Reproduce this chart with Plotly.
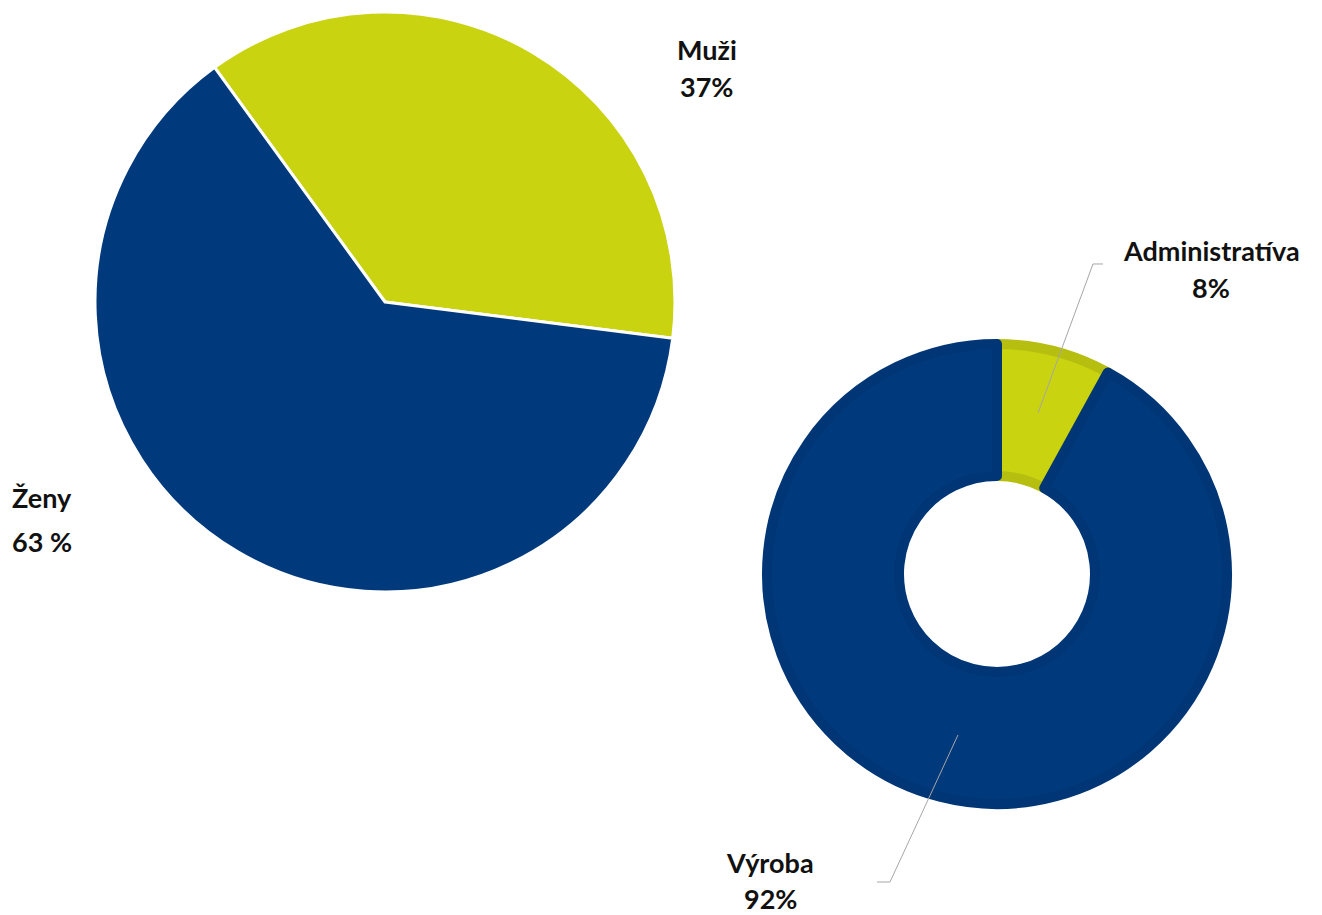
import plotly.graph_objects as go

W, H = 1322, 915
OFF = 8  # page body margin in the browser

# data
gender_labels = ["Muži", "Ženy"]
gender_values = [37, 63]
gender_text = ["37%", "63 %"]

dept_labels = ["Administratíva", "Výroba"]
dept_values = [8, 92]
dept_text = ["8%", "92%"]

YELLOW = "#C9D30F"
NAVY = "#003A7C"
YELLOW_EDGE = "#B6BF10"
NAVY_EDGE = "#003675"


def px(x):
    return (x - OFF) / W


def py(y):
    return 1 - (y - OFF) / H


fig = go.Figure()

fig.add_trace(go.Pie(
    labels=gender_labels,
    values=gender_values,
    sort=False,
    direction="clockwise",
    rotation=-36,
    textinfo="none",
    hoverinfo="label+percent",
    marker=dict(colors=[YELLOW, NAVY], line=dict(color="white", width=3)),
    domain=dict(x=[px(95), px(675)], y=[py(592), py(12)]),
    showlegend=False,
))

fig.add_trace(go.Pie(
    labels=dept_labels,
    values=dept_values,
    sort=False,
    direction="clockwise",
    rotation=0,
    hole=0.426,
    textinfo="none",
    hoverinfo="label+percent",
    marker=dict(colors=[YELLOW, NAVY], line=dict(color=[YELLOW_EDGE, NAVY_EDGE], width=10)),
    domain=dict(x=[px(767), px(1227)], y=[py(804), py(344)]),
    showlegend=False,
))

font = dict(family="Lato, 'Open Sans', sans-serif", size=27, color="#111111")


def label(text, x, y, anchor="center"):
    fig.add_annotation(x=px(x), y=py(y), xref="paper", yref="paper", text="<b>%s</b>" % text,
                       showarrow=False, xanchor=anchor, yanchor="middle", font=font)


label(gender_labels[0], 707, 50)
label(gender_text[0], 707, 87)
label(gender_labels[1], 10, 497, "left")
label(gender_text[1], 10, 541, "left")
label(dept_labels[0], 1211, 250)
label(dept_text[0], 1211, 287)
label(dept_labels[1], 770, 862)
label(dept_text[1], 770, 898)

# leader lines
leader = dict(color="#A6A6A6", width=1)
for pts in ([(1038, 413), (1093, 264), (1103, 264)], [(958, 735), (890, 882), (877, 882)]):
    path = "M " + " L ".join("%f,%f" % (px(x), py(y)) for x, y in pts)
    fig.add_shape(type="path", path=path, xref="paper", yref="paper", line=leader)

fig.update_layout(
    width=W,
    height=H,
    margin=dict(l=0, r=0, t=0, b=0),
    paper_bgcolor="white",
    plot_bgcolor="white",
)

fig.write_html("out.html")
